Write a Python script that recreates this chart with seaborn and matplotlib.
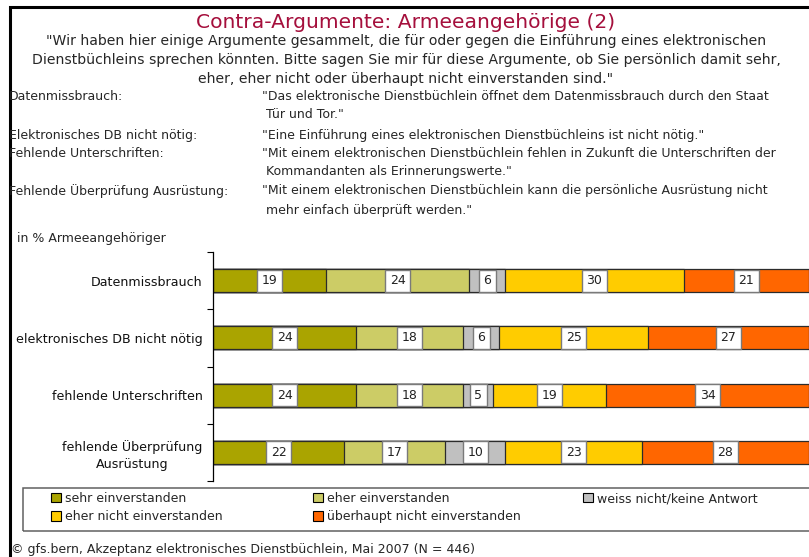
"""Stacked agreement bars: Contra-Argumente Armeeangehörige (2)."""
import matplotlib

matplotlib.use("Agg")
import matplotlib.pyplot as plt
import numpy as np
import seaborn as sns
from matplotlib.patches import Patch, Rectangle

# --- data -------------------------------------------------------------------
topics = [
    "Datenmissbrauch",
    "elektronisches DB nicht nötig",
    "fehlende Unterschriften",
    "fehlende Überprüfung\nAusrüstung",
]
answers = [
    "sehr einverstanden",
    "eher einverstanden",
    "weiss nicht/keine Antwort",
    "eher nicht einverstanden",
    "überhaupt nicht einverstanden",
]
sehr = [19, 24, 24, 22]
eher = [24, 18, 18, 17]
weiss_nicht = [6, 6, 5, 10]
eher_nicht = [30, 25, 19, 23]
ueberhaupt_nicht = [21, 27, 34, 28]

colors = ["#aaa400", "#cccc66", "#c0c0c0", "#ffcc00", "#ff6600"]

title = "Contra-Argumente: Armeeangehörige (2)"
question_lines = [
    "\"Wir haben hier einige Argumente gesammelt, die für oder gegen die Einführung eines elektronischen",
    "Dienstbüchleins sprechen könnten. Bitte sagen Sie mir für diese Argumente, ob Sie persönlich damit sehr,",
    "eher, eher nicht oder überhaupt nicht einverstanden sind.\"",
]
def_labels = [
    "Datenmissbrauch:",
    "Elektronisches DB nicht nötig:",
    "Fehlende Unterschriften:",
    "Fehlende Überprüfung Ausrüstung:",
]
def_quotes = [
    ["\"Das elektronische Dienstbüchlein öffnet dem Datenmissbrauch durch den Staat", " Tür und Tor.\""],
    ["\"Eine Einführung eines elektronischen Dienstbüchleins ist nicht nötig.\""],
    ["\"Mit einem elektronischen Dienstbüchlein fehlen in Zukunft die Unterschriften der",
     " Kommandanten als Erinnerungswerte.\""],
    ["\"Mit einem elektronischen Dienstbüchlein kann die persönliche Ausrüstung nicht",
     " mehr einfach überprüft werden.\""],
]
footer = "© gfs.bern, Akzeptanz elektronisches Dienstbüchlein, Mai 2007 (N = 446)"

# --- figure -----------------------------------------------------------------
sns.set_theme(style="white")
plt.rcParams["font.family"] = ["DejaVu Sans"]

W, H = 809, 557
fig = plt.figure(figsize=(W / 100, H / 100), dpi=100)


def fx(px):
    return px / W


def fy(px):
    return 1 - px / H


# outer frame (right/bottom run off the picture)
fig.add_artist(Rectangle((fx(10), -0.2), 1.2, fy(7) + 0.2, fill=False, lw=2.2,
                         ec="black", transform=fig.transFigure, clip_on=False))
fig.text(fx(425), fy(-6), "Grafik 27", ha="center", va="center", fontsize=13,
         weight="bold")

fig.text(fx(406), fy(23), title, ha="center", va="center", fontsize=14.6,
         color="#a50f3c")
for line, ypx in zip(question_lines, [41, 60, 79]):
    fig.text(fx(406), fy(ypx), line, ha="center", va="center", fontsize=10.1)

def_rows = [[97, 115], [135], [153, 172], [191, 210]]
for lab, quote, rows in zip(def_labels, def_quotes, def_rows):
    fig.text(fx(9), fy(rows[0]), lab, ha="left", va="center", fontsize=9)
    for line, ypx in zip(quote, rows):
        fig.text(fx(262), fy(ypx), line, ha="left", va="center", fontsize=9)
fig.text(fx(17), fy(238), "in % Armeeangehöriger", ha="left", va="center",
         fontsize=9)

# --- stacked bars -------------------------------------------------------------
ax = fig.add_axes([fx(213), fy(481), 1 - fx(213), (481 - 252) / H])
series = np.array([sehr, eher, weiss_nicht, eher_nicht, ueberhaupt_nicht], dtype=float)
cum = np.cumsum(series, axis=0)
for i in range(len(series) - 1, -1, -1):
    sns.barplot(x=cum[i], y=topics, order=topics, orient="h", color=colors[i],
                saturation=1, width=0.4, edgecolor="#2b2b2b", linewidth=0.9, ax=ax)

for i in range(len(series)):
    starts = cum[i] - series[i]
    for j, v in enumerate(series[i]):
        ax.text(starts[j] + v / 2, j, f"{int(v)}", ha="center", va="center",
                fontsize=9, color="#222222",
                bbox=dict(boxstyle="square,pad=0.36", fc="white", ec="#7a7a7a", lw=1.0))

ax.set_xlim(0, 100)
ax.set_ylim(3.5, -0.5)
ax.set_xlabel("")
ax.set_ylabel("")
ax.set_xticks([])
ax.set_yticks(np.arange(len(topics)))
ax.set_yticklabels(topics, fontsize=9.1, color="#111111")
for lab in ax.get_yticklabels():
    lab.set_multialignment("center")
    lab.set_linespacing(1.35)
ax.set_yticks(np.arange(len(topics) + 1) - 0.5, minor=True)
ax.tick_params(axis="y", which="major", length=0, pad=7.5)
ax.tick_params(axis="y", which="minor", length=4, width=0.8, direction="out",
               left=True, color="black")
for side in ["top", "right", "bottom"]:
    ax.spines[side].set_visible(False)
ax.spines["left"].set_color("black")
ax.spines["left"].set_linewidth(0.9)

# --- legend -------------------------------------------------------------------
fig.add_artist(Rectangle((fx(23), fy(531)), 1.1, (531 - 488) / H, fill=False,
                         lw=1.1, ec="#606060", transform=fig.transFigure,
                         clip_on=False))
handles = [Patch(fc=c, ec="black", lw=0.8) for c in colors]
legend_cols = [(51, [0, 3]), (313, [1, 4]), (583, [2])]
for xpx, idx in legend_cols:
    leg = fig.legend([handles[k] for k in idx], [answers[k] for k in idx],
                     loc="upper left", bbox_to_anchor=(fx(xpx), fy(492)),
                     frameon=False, fontsize=9, handlelength=0.8,
                     handleheight=0.8, handletextpad=0.3, borderpad=0,
                     labelspacing=0.42, borderaxespad=0)

fig.text(fx(11), fy(549), footer, ha="left", va="center", fontsize=9)

fig.savefig("out.png", dpi=100)
